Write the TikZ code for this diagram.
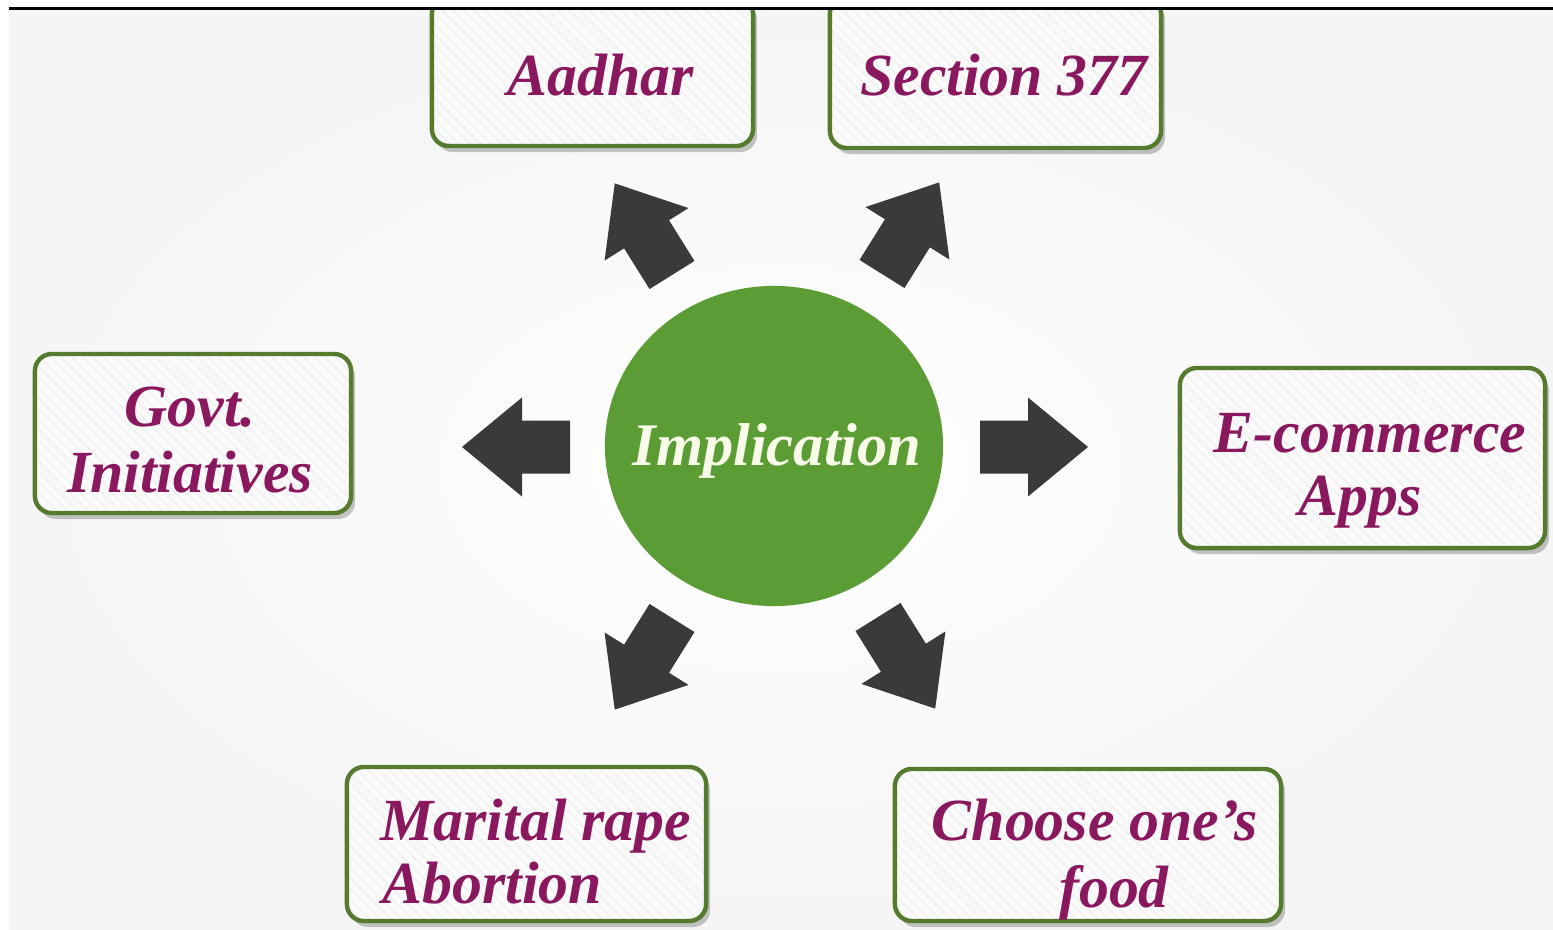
\documentclass[tikz,border=0pt]{standalone}
\usepackage{fontspec}
\setmainfont{Liberation Serif}
\usetikzlibrary{shapes.geometric,shadows,patterns}

\definecolor{bordergreen}{RGB}{86,122,46}
\definecolor{hubgreen}{RGB}{91,157,52}
\definecolor{labelpurple}{RGB}{137,24,94}
\definecolor{arrowgray}{RGB}{58,58,58}
\definecolor{hubtext}{RGB}{248,251,232}

\tikzset{
  topicbox/.style={
    draw=bordergreen, line width=1.25pt, rounded corners=0.17cm,
    inner sep=0pt,
    drop shadow={shadow xshift=0.04cm, shadow yshift=-0.06cm,
                 fill=black, opacity=0.22},
    preaction={fill=black!2},
    pattern=north west lines, pattern color=black!6},
  topiclabel/.style={
    inner sep=0pt, text=labelpurple,
    font=\fontsize{17}{18.5}\selectfont\bfseries\itshape},
  hublabel/.style={
    inner sep=0pt, text=hubtext,
    font=\fontsize{17.2}{18.5}\selectfont\bfseries\itshape},
  blockarrow/.pic={
    \fill[arrowgray] (0,-26.5) -- (48,-26.5) -- (48,-49.5) -- (108,0)
      -- (48,49.5) -- (48,26.5) -- (0,26.5) -- cycle;}
}

\begin{document}
\begin{tikzpicture}[x=0.01cm, y=0.01cm]
  \useasboundingbox (0,0) rectangle (1553,929);
  \fill[white] (0,0) rectangle (1553,929);

  % slide background
  \shade[inner color=white, outer color=black!4] (9,0) rectangle (1553,921);

  % central hub
  \node[ellipse, fill=hubgreen, minimum width=3.38cm, minimum height=3.2cm,
        inner sep=0pt] (hub) at (774,483) {};
  \node[hublabel, anchor=base] (hubtext) at (777,464) {Implication};

  % block arrows around the hub
  \pic (arrowW)  at (570,482) [rotate=180] {blockarrow};
  \pic (arrowE)  at (980,482)              {blockarrow};
  \pic (arrowNW) at (672,654) [rotate=122] {blockarrow};
  \pic (arrowNE) at (882,655) [rotate=58]  {blockarrow};
  \pic (arrowSW) at (672,311) [rotate=238] {blockarrow};
  \pic (arrowSE) at (878,312) [rotate=302] {blockarrow};

  % topic boxes
  \node[topicbox, minimum width=3.21cm, minimum height=1.49cm] (aadhar)  at (592.5,857.5) {};
  \node[topicbox, minimum width=3.31cm, minimum height=1.51cm] (section) at (995.5,856.5) {};
  \node[topicbox, minimum width=3.16cm, minimum height=1.59cm] (govt)    at (193,495.5) {};
  \node[topicbox, minimum width=3.65cm, minimum height=1.80cm] (ecom)    at (1362.5,471) {};
  \node[topicbox, minimum width=3.59cm, minimum height=1.54cm] (marital) at (526.5,85) {};
  \node[topicbox, minimum width=3.86cm, minimum height=1.52cm] (food)    at (1088,84) {};

  % box labels
  \node[topiclabel, anchor=base] (aadhar-1)  at (601,834)  {Aadhar};
  \node[topiclabel, anchor=base] (section-1) at (1004,834) {Section 377};
  \node[topiclabel, anchor=base] (govt-1)    at (190,503)  {Govt.};
  \node[topiclabel, anchor=base] (govt-2)    at (190,437)  {Initiatives};
  \node[topiclabel, anchor=base] (ecom-1)    at (1370,477) {E-commerce};
  \node[topiclabel, anchor=base] (ecom-2)    at (1360,414) {Apps};
  \node[topiclabel, anchor=base west] (marital-1) at (380,89) {Marital rape};
  \node[topiclabel, anchor=base west] (marital-2) at (382,26) {Abortion};
  \node[topiclabel, anchor=base] (food-1)    at (1095,89)  {Choose one’s};
  \node[topiclabel, anchor=base] (food-2)    at (1114,22)  {food};

  % top margin and rule
  \fill[white] (0,921) rectangle (1553,929);
  \draw[black, line width=0.03cm] (9,921) -- (1553,921);
\end{tikzpicture}
\end{document}
